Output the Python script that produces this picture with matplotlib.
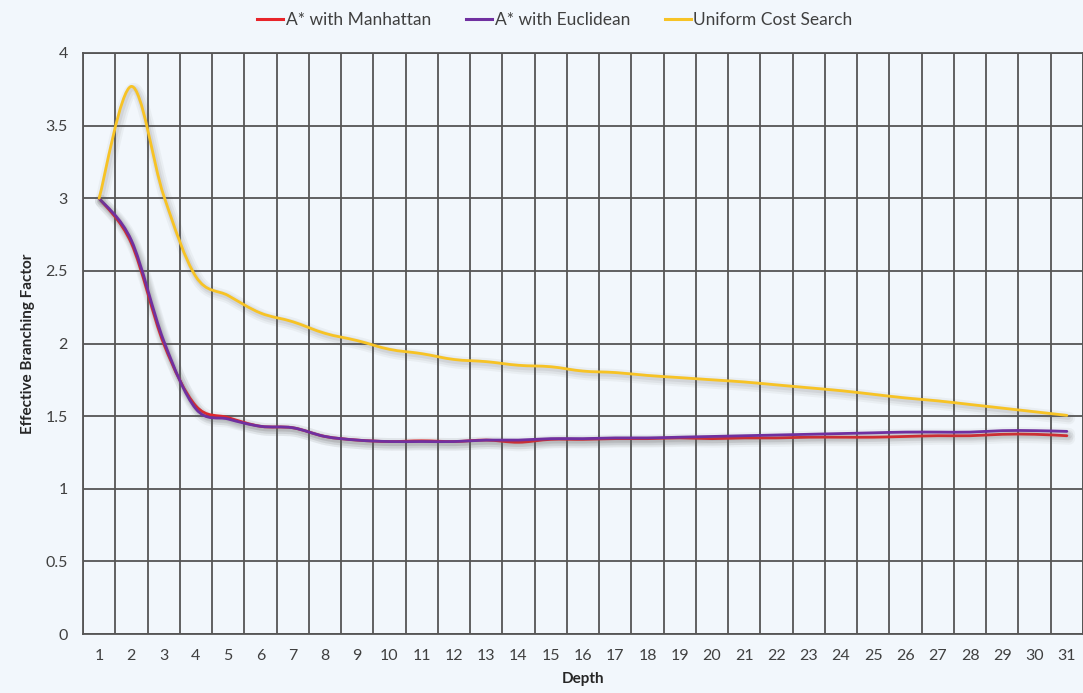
# Effective branching factor vs depth, three search strategies
import numpy as np
import matplotlib.pyplot as plt
from matplotlib.path import Path
from matplotlib.patches import PathPatch
from matplotlib.lines import Line2D
import matplotlib.patheffects as pe

# Data
depth = list(range(1, 32))
manhattan = [3.0, 2.69, 2.0, 1.57, 1.49, 1.43, 1.42, 1.36, 1.335, 1.325, 1.33,
             1.325, 1.335, 1.32, 1.34, 1.34, 1.345, 1.345, 1.35, 1.345, 1.35,
             1.35, 1.355, 1.355, 1.355, 1.36, 1.365, 1.365, 1.375, 1.375, 1.365]
euclidean = [3.0, 2.71, 2.02, 1.55, 1.48, 1.43, 1.42, 1.36, 1.335, 1.325, 1.325,
             1.325, 1.335, 1.335, 1.345, 1.345, 1.35, 1.35, 1.355, 1.36, 1.365,
             1.37, 1.375, 1.38, 1.385, 1.39, 1.39, 1.39, 1.40, 1.40, 1.395]
uniform = [3.0, 3.77, 3.02, 2.46, 2.33, 2.21, 2.15, 2.07, 2.02, 1.96, 1.93,
           1.89, 1.875, 1.85, 1.84, 1.81, 1.80, 1.78, 1.765, 1.75, 1.735,
           1.715, 1.695, 1.675, 1.65, 1.625, 1.605, 1.58, 1.555, 1.53, 1.505]

series = [
    ('A* with Manhattan', manhattan, '#e8242a'),
    ('A* with Euclidean', euclidean, '#7030a0'),
    ('Uniform Cost Search', uniform, '#f7c325'),
]
y_ticks = [0, 0.5, 1, 1.5, 2, 2.5, 3, 3.5, 4]

FONT = 'Lato'
BG = '#f2f7fc'
GRID = '#555555'


def smooth_path(xs, ys):
    # Excel-like smoothed line: Catmull-Rom segments as cubic Bezier curves
    xs = np.asarray(xs, float)
    ys = np.asarray(ys, float)
    verts = [(xs[0], ys[0])]
    codes = [Path.MOVETO]
    n = len(xs)
    for i in range(n - 1):
        p0 = (xs[max(i - 1, 0)], ys[max(i - 1, 0)])
        p1 = (xs[i], ys[i])
        p2 = (xs[i + 1], ys[i + 1])
        p3 = (xs[min(i + 2, n - 1)], ys[min(i + 2, n - 1)])
        c1 = (p1[0] + (p2[0] - p0[0]) / 6, p1[1] + (p2[1] - p0[1]) / 6)
        c2 = (p2[0] - (p3[0] - p1[0]) / 6, p2[1] - (p3[1] - p1[1]) / 6)
        verts += [c1, c2, p2]
        codes += [Path.CURVE4] * 3
    return Path(verts, codes)


fig = plt.figure(figsize=(10.83, 6.93), dpi=100, facecolor=BG)
ax = fig.add_axes([83 / 1083, 1 - 634 / 693, 1000 / 1083, 581 / 693])
ax.set_facecolor(BG)

shadow = [
    pe.SimpleLineShadow(offset=(1.5, -2), shadow_color='#606060', alpha=0.06, linewidth=9),
    pe.SimpleLineShadow(offset=(1.5, -2), shadow_color='#606060', alpha=0.08, linewidth=6),
    pe.SimpleLineShadow(offset=(1, -1.5), shadow_color='#606060', alpha=0.10, linewidth=3.5),
    pe.Normal(),
]

handles = []
for name, vals, col in series:
    patch = PathPatch(smooth_path(depth, vals), fill=False, edgecolor=col,
                      linewidth=2.0, capstyle='round', joinstyle='round', zorder=3)
    patch.set_path_effects(shadow)
    ax.add_patch(patch)
    handles.append(Line2D([], [], color=col, linewidth=2.2, label=name))

ax.set_xlim(0.5, 31.5)
ax.set_ylim(0, 4)

# category axis: gridlines between categories, labels at centres
ax.set_xticks(depth)
ax.set_xticklabels([str(d) for d in depth])
ax.set_xticks(np.arange(0.5, 32, 1), minor=True)
ax.set_yticks(y_ticks)
ax.set_yticklabels(['0', '0.5', '1', '1.5', '2', '2.5', '3', '3.5', '4'])
ax.grid(True, which='minor', axis='x', color=GRID, linewidth=1.3)
ax.grid(True, which='major', axis='y', color=GRID, linewidth=1.3)
ax.tick_params(which='both', length=0)
ax.tick_params(axis='x', pad=11, labelsize=11.5, labelcolor='#404040')
ax.tick_params(axis='y', pad=11, labelsize=11.5, labelcolor='#404040')
for lab in ax.get_xticklabels() + ax.get_yticklabels():
    lab.set_fontfamily(FONT)
for sp in ax.spines.values():
    sp.set_color(GRID)
    sp.set_linewidth(1.3)

ax.set_xlabel('Depth', fontfamily=FONT, fontweight='bold', fontsize=11, color='#262626')
ax.set_ylabel('Effective Branching Factor', fontfamily=FONT, fontweight='bold',
              fontsize=11, color='#262626')
ax.xaxis.set_label_coords(0.5, -(672 - 634) / 581)
ax.yaxis.set_label_coords(-(83 - 35) / 1000, 0.5)

fig.legend(handles=handles, loc='center', bbox_to_anchor=(555 / 1083, 1 - 20 / 693),
           ncol=3, frameon=False, handlelength=1.5, handletextpad=0.15,
           columnspacing=2.0, prop={'family': FONT, 'size': 12.5},
           labelcolor='#404040')

fig.savefig('out.png', dpi=100, facecolor=BG)
